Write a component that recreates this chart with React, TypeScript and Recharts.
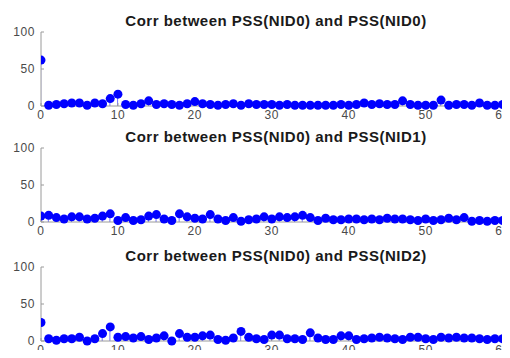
import React from 'react';
import {Bar, ComposedChart, Scatter, XAxis, YAxis} from 'recharts';

const titles = [
    'Corr between PSS(NID0) and PSS(NID0)',
    'Corr between PSS(NID0) and PSS(NID1)',
    'Corr between PSS(NID0) and PSS(NID2)',
];

const corrNid0 = [
    62, 1, 2, 3, 4, 4, 1, 4, 3, 10, 16, 2, 1, 3, 7, 2, 3, 2, 1, 3, 6,
    3, 2, 1, 2, 3, 1, 3, 2, 2, 2, 1, 2, 1, 1, 1, 1, 1, 1, 2, 1, 2,
    4, 2, 3, 2, 2, 7, 2, 1, 1, 1, 8, 1, 2, 2, 1, 4, 1, 1, 2, 1, 2,
];

const corrNid1 = [
    8, 9, 6, 4, 7, 7, 4, 5, 8, 11, 2, 6, 2, 3, 8, 10, 4, 2, 11, 7, 5,
    4, 10, 4, 2, 6, 1, 3, 4, 7, 4, 7, 6, 7, 9, 6, 2, 5, 3, 3, 4, 4,
    3, 4, 3, 5, 4, 4, 3, 2, 4, 2, 3, 5, 3, 6, 1, 2, 1, 2, 2, 1, 3,
];

const corrNid2 = [
    25, 3, 1, 3, 3, 5, 0, 3, 10, 19, 5, 6, 4, 6, 2, 4, 7, 0, 10, 5, 5,
    7, 8, 2, 1, 4, 13, 5, 3, 2, 8, 8, 3, 3, 2, 11, 4, 2, 2, 7, 7, 2,
    3, 4, 5, 4, 3, 2, 5, 5, 3, 2, 5, 4, 5, 4, 4, 3, 2, 3, 3, 2, 4,
];

const xTicks = [0, 10, 20, 30, 40, 50, 60];
const yTicks = [0, 50, 100];

const series = [corrNid0, corrNid1, corrNid2];
const chartTops = [0, 116, 235];

const axisColor = '#9a9a9a';
const tickFont = {
    fontSize: 12, fill: '#4a4a4a', letterSpacing: 0.6,
    fontFamily: 'Liberation Sans, Arial, sans-serif',
};

const Dot = (props: any) => {
    const {cx, cy} = props;
    return <circle cx={cx} cy={cy} r={4.5} fill="#0000ff"/>;
};

const StemPanel = ({values, title, top}: {values: number[]; title: string; top: number}) => {
    const rows = values.map((v, i) => ({x: i, y: v}));
    return (
        <div style={{position: 'absolute', left: 0, top, width: 530, height: 122}}>
            <ComposedChart width={530} height={122} data={rows}
                           margin={{top: 32, right: 12, bottom: 2, left: 0}}>
                <XAxis dataKey="x" type="number" domain={[0, 62]} ticks={xTicks}
                       allowDataOverflow height={14} stroke={axisColor}
                       tickSize={-3} tickMargin={7} tick={tickFont}
                       tickLine={{stroke: axisColor}}/>
                <XAxis xAxisId="top" orientation="top" dataKey="x" type="number"
                       domain={[0, 62]} ticks={xTicks} height={0} stroke={axisColor}
                       tickSize={-3} tickFormatter={() => ''}
                       tickLine={{stroke: axisColor}}/>
                <YAxis type="number" domain={[0, 100]} ticks={yTicks} width={41}
                       stroke={axisColor} tickSize={-3} tickMargin={9} tick={tickFont}
                       tickLine={{stroke: axisColor}}/>
                <Bar dataKey="y" barSize={1} fill="#7070ff" isAnimationActive={false}/>
                <Scatter dataKey="y" shape={Dot} isAnimationActive={false}/>
            </ComposedChart>
            <div style={{
                position: 'absolute', top: 12, left: 0, width: 552, textAlign: 'center',
                fontFamily: 'Liberation Sans, Arial, sans-serif', fontWeight: 'bold',
                fontSize: 15, letterSpacing: 0.5, lineHeight: '17px', color: '#1a1a1a',
                whiteSpace: 'nowrap',
            }}>
                {title}
            </div>
        </div>
    );
};

const App = () => {
    return (
        <div style={{
            position: 'relative', margin: -8, width: 510, height: 358,
            overflow: 'hidden', background: '#ffffff',
        }}>
            {series.map((values, i) => (
                <StemPanel key={titles[i]} values={values} title={titles[i]} top={chartTops[i]}/>
            ))}
        </div>
    );
};

export default App;
